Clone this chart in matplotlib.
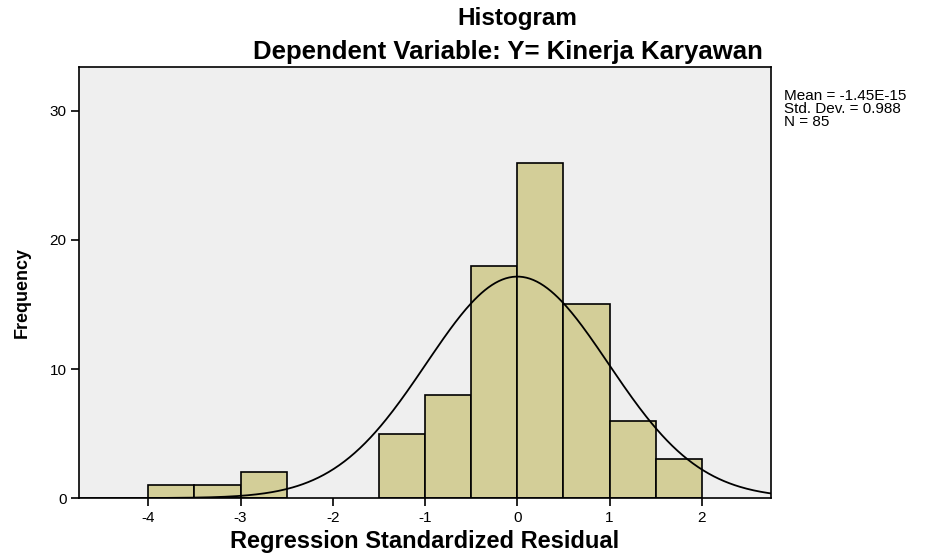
import numpy as np
import matplotlib.pyplot as plt

plt.rcParams['font.family'] = ['Liberation Sans', 'DejaVu Sans']
plt.rcParams['axes.unicode_minus'] = False

# histogram of residuals, bins of width 0.5
bin_edges = [-4.0, -3.5, -3.0, -2.5, -2.0, -1.5, -1.0, -0.5, 0.0, 0.5, 1.0, 1.5, 2.0]
counts = [1, 1, 2, 0, 0, 5, 8, 18, 26, 15, 6, 3]
mean = -1.45e-15
std = 0.988
n = 85

fig = plt.figure(figsize=(9.31, 5.54), dpi=100)
ax = fig.add_axes([0.0849, 0.101, 0.7433, 0.778])
ax.set_facecolor('#efefef')

lefts = bin_edges[:-1]
for left, c in zip(lefts, counts):
    if c > 0:
        ax.bar(left, c, width=0.5, align='edge', color='#d3ce98',
               edgecolor='black', linewidth=1.2, zorder=2)

# normal curve scaled to counts
xs = np.linspace(-4.75, 2.75, 400)
ys = n * 0.5 / (std * np.sqrt(2 * np.pi)) * np.exp(-0.5 * ((xs - mean) / std) ** 2)
ax.plot(xs, ys, color='black', linewidth=1.3, zorder=3)

ax.set_xlim(-4.75, 2.75)
ax.set_ylim(0, 33.4)
ax.set_xticks([-4, -3, -2, -1, 0, 1, 2])
ax.set_yticks([0, 10, 20, 30])
ax.tick_params(labelsize=11, length=6, width=1.2, pad=3)
for s in ax.spines.values():
    s.set_linewidth(1.2)

ax.set_xlabel('Regression Standardized Residual', fontsize=17, fontweight='bold')
ax.xaxis.set_label_coords(0.5, -0.0998)
ax.xaxis.label.set_verticalalignment('center')
ax.set_ylabel('Frequency', fontsize=13, fontweight='bold')
ax.yaxis.set_label_coords(-0.0824, 0.478)
ax.yaxis.label.set_verticalalignment('center')

fig.text(0.556, 0.967, 'Histogram', ha='center', va='center', fontsize=17.5, fontweight='bold')
fig.text(0.546, 0.906, 'Dependent Variable: Y= Kinerja Karyawan', ha='center', va='center',
         fontsize=18.5, fontweight='bold')
fig.text(0.842, 0.803, 'Mean = -1.45E-15\nStd. Dev. = 0.988\nN = 85', ha='left', va='center',
         fontsize=11, linespacing=0.88)

fig.savefig('out.png', dpi=100)
